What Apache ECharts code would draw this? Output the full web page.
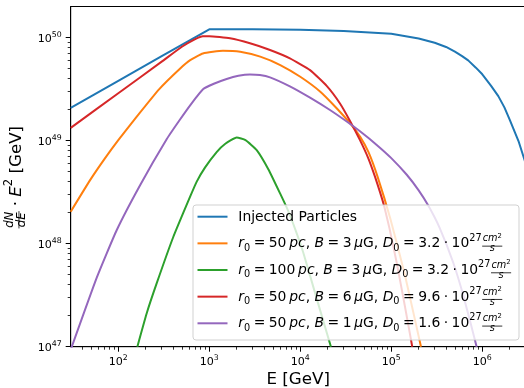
<!DOCTYPE html>
<html>
<head>
<meta charset="utf-8">
<script src="https://cdn.jsdelivr.net/npm/echarts@6/dist/echarts.min.js"></script>
<style>
  html, body { margin: 0; padding: 0; background: #fff; }
  #chart { width: 524px; height: 388px; }
</style>
</head>
<body>
<div id="chart"></div>
<script>
// values (E in GeV, dN/dE*E^2 in GeV)
const injectedE = [30, 100, 300, 1000, 3000, 1e4, 3e4, 1e5, 2e5, 3e5, 4e5, 5e5, 6e5, 7e5, 8.5e5, 1e6, 1.25e6, 1.5e6, 1.75e6, 2e6, 2.5e6, 3e6];
const injectedN = [2.08e49, 3.8e49, 6.6e49, 1.2e50, 1.2e50, 1.19e50, 1.16e50, 1.09e50, 9.8e49, 8.9e49, 8.1e49, 7.3e49, 6.6e49, 6.0e49, 5.1e49, 4.4e49, 3.4e49, 2.7e49, 2.1e49, 1.6e49, 9.9e48, 6.0e48];

const r50b3E = [30, 49, 71, 100, 158, 282, 479, 617, 851, 1413, 2188, 3631, 6026, 1e4, 1.66e4, 2.51e4, 3.55e4, 4.57e4, 5.62e4, 7.08e4, 9.77e4, 1.41e5, 2.12e5];
const r50b3N = [2.04e48, 4.13e48, 6.68e48, 1.01e49, 1.69e49, 3.16e49, 5.01e49, 6.03e49, 7.01e49, 7.45e49, 7.28e49, 6.52e49, 5.41e49, 4.16e49, 2.98e49, 2.06e49, 1.46e49, 1.08e49, 7.71e48, 4.44e48, 1.74e48, 4.98e47, 1e47];

const r100b3E = [162, 205, 264, 402, 614, 728, 900, 1205, 1500, 2000, 2500, 3320, 4470, 5980, 7380, 8910, 1.08e4, 1.51e4, 2.17e4];
const r100b3N = [1e47, 2.1e47, 4.11e47, 1.16e48, 2.84e48, 4.0e48, 5.5e48, 7.74e48, 9.33e48, 1.07e49, 1.01e49, 8.09e48, 5.25e48, 3.09e48, 2.07e48, 1.34e48, 8.17e47, 2.96e47, 1e47];

const r50b6E = [30, 100, 300, 500, 700, 851, 1000, 1690, 2800, 4650, 7690, 1.28e4, 1.95e4, 2.73e4, 3.52e4, 4.53e4, 5.58e4, 6.62e4, 7.52e4, 8.32e4, 9.55e4, 1.15e5, 1.4e5, 1.7e5];
const r50b6N = [1.33e49, 2.88e49, 5.83e49, 8.13e49, 9.66e49, 1.03e50, 1.03e50, 9.82e49, 8.79e49, 7.57e49, 6.28e49, 4.83e49, 3.39e49, 2.29e49, 1.55e49, 1.01e49, 6.76e48, 4.47e48, 3.16e48, 2.34e48, 1.41e48, 6.46e47, 2.57e47, 1e47];

const r50b1E = [30, 58, 96, 173, 340, 477, 631, 859, 1122, 1552, 2089, 2800, 3600, 4650, 7690, 1.28e4, 2.12e4, 3.24e4, 4.53e4, 6.92e4, 1e5, 1.48e5, 2e5, 2.55e5, 3.39e5, 4.8e5, 6.3e5, 8.67e5];
const r50b1N = [9.33e46, 4.68e47, 1.35e48, 3.67e48, 1.03e49, 1.6e49, 2.26e49, 3.16e49, 3.56e49, 3.96e49, 4.25e49, 4.38e49, 4.33e49, 4.11e49, 3.36e49, 2.61e49, 1.98e49, 1.53e49, 1.23e49, 9.08e48, 6.76e48, 4.66e48, 3.29e48, 2.34e48, 1.43e48, 6.52e47, 2.96e47, 1e47];

// legend parameters of the four diffusion models
const radii = [50, 100, 50, 50];
const fields = [3, 3, 6, 1];
const diffusion = ['3.2', '3.2', '9.6', '1.6'];

const colors = ['#1f77b4', '#ff7f0e', '#2ca02c', '#d62728', '#9467bd'];

const xMajor = [1e2, 1e3, 1e4, 1e5, 1e6];
const xMinor = [40, 50, 60, 70, 80, 90, 200, 300, 400, 500, 600, 700, 800, 900,
  2e3, 3e3, 4e3, 5e3, 6e3, 7e3, 8e3, 9e3, 2e4, 3e4, 4e4, 5e4, 6e4, 7e4, 8e4, 9e4,
  2e5, 3e5, 4e5, 5e5, 6e5, 7e5, 8e5, 9e5, 2e6];
const yMajor = [1e47, 1e48, 1e49, 1e50];
const yMinor = [2e47, 3e47, 4e47, 5e47, 6e47, 7e47, 8e47, 9e47, 2e48, 3e48, 4e48, 5e48, 6e48, 7e48, 8e48, 9e48,
  2e49, 3e49, 4e49, 5e49, 6e49, 7e49, 8e49, 9e49];

const FONT = 'DejaVu Sans';

const seriesE = [injectedE, r50b3E, r100b3E, r50b6E, r50b1E];
const seriesN = [injectedN, r50b3N, r100b3N, r50b6N, r50b1N];
const seriesNames = ['Injected Particles'].concat(radii.map((r, i) =>
  'r0 = ' + r + ' pc, B = ' + fields[i] + ' μG, D0 = ' + diffusion[i] + '·10^27 cm²/s'));

// ---- small mathtext-like layout for legend and y label ----
const measureCtx = document.createElement('canvas').getContext('2d');
function textWidth(t, size, italic) {
  measureCtx.font = (italic ? 'italic ' : '') + size + 'px "' + FONT + '"';
  return measureCtx.measureText(t).width;
}
// piece: [text, italic, scale, dy in em]
function pieceWidth(p, size) { return textWidth(p[0], size * p[2], p[1]); }
function runWidth(run, size) { return run.reduce((w, p) => w + pieceWidth(p, size), 0); }
function fracWidth(f, size) { return Math.max(runWidth(f.num, size), runWidth(f.den, size)) + 0.15 * size; }
function mathWidth(pieces, size) {
  return pieces.reduce((w, p) => w + (p.num ? fracWidth(p, size) : pieceWidth(p, size)), 0);
}
function placeRun(run, x, y, size, out) {
  run.forEach(p => {
    out.push({
      type: 'text', x: x, y: y + p[3] * size, z: 100, silent: true,
      style: {
        text: p[0], fontSize: size * p[2], fontFamily: FONT, fontStyle: p[1] ? 'italic' : 'normal',
        fill: '#000', align: 'left', verticalAlign: 'middle'
      }
    });
    x += pieceWidth(p, size);
  });
  return x;
}
function layoutMath(pieces, x, y, size, out) {
  pieces.forEach(p => {
    if (p.num) {
      const w = fracWidth(p, size);
      placeRun(p.num, x + (w - runWidth(p.num, size)) / 2, y - 0.37 * size, size, out);
      placeRun(p.den, x + (w - runWidth(p.den, size)) / 2, y + 0.35 * size, size, out);
      out.push({
        type: 'line', z: 100, silent: true,
        shape: { x1: x + 0.04 * size, y1: y + 0.165 * size, x2: x + w - 0.04 * size, y2: y + 0.165 * size },
        style: { stroke: '#000', lineWidth: 0.8 }
      });
      x += w;
    } else {
      x = placeRun([p], x, y, size, out);
    }
  });
  return x;
}

const SP = '\u2005'; // quarter-em space, close to mathtext operator spacing
function paramPieces(r, b, d) {
  return [
    ['r', 1, 1, 0], ['0', 0, 0.7, 0.3], [SP + '=' + SP + r + '\u2009', 0, 1, 0], ['pc', 1, 1, 0], [', ', 0, 1, 0],
    ['B', 1, 1, 0], [SP + '=' + SP + b + '\u2009', 0, 1, 0], ['μ', 1, 1, 0], ['G, ', 0, 1, 0],
    ['D', 1, 1, 0], ['0', 0, 0.7, 0.3], [SP + '=' + SP + d + SP + '·' + SP + '10', 0, 1, 0], ['27', 0, 0.7, -0.42],
    { num: [['cm', 1, 0.7, 0], ['2', 0, 0.49, -0.2]], den: [['s', 1, 0.7, 0]] }
  ];
}

const graphics = [];
// legend frame
graphics.push({
  type: 'rect', z: 99, silent: true,
  shape: { x: 193, y: 205, width: 326, height: 135, r: 3 },
  style: { fill: 'rgba(255,255,255,0.8)', stroke: 'rgba(204,204,204,0.9)', lineWidth: 1 }
});
const legendSize = 13.9;
const legendRows = [[['Injected Particles', 0, 1, 0]]].concat(radii.map((r, i) => paramPieces(r, fields[i], diffusion[i])));
legendRows.forEach((row, i) => {
  const y = 216.7 + i * 26.65;
  graphics.push({
    type: 'line', z: 100, silent: true,
    shape: { x1: 197.5, y1: y, x2: 227.5, y2: y },
    style: { stroke: colors[i], lineWidth: 2 }
  });
  layoutMath(row, 238.3, y + 0.5, legendSize, graphics);
});

// y axis title, rotated
const ySize = 16.7;
const yLabelPieces = [
  { num: [['dN', 1, 0.7, 0]], den: [['dE', 1, 0.7, 0]] },
  [SP + '·' + SP, 0, 1, 0], ['E', 1, 1, 0], ['2', 0, 0.7, -0.42], [' [GeV]', 0, 1, 0]
];
const yChildren = [];
layoutMath(yLabelPieces, -mathWidth(yLabelPieces, ySize) / 2, 0, ySize, yChildren);
graphics.push({ type: 'group', x: 16.2, y: 177.5, rotation: Math.PI / 2, children: yChildren });

function powerLabel(v) {
  const e = Math.round(Math.log10(v));
  return '{b|10}{s|' + e + '}';
}
const tickRich = {
  b: { fontSize: 11.1, fontFamily: FONT, color: '#000', lineHeight: 14, verticalAlign: 'bottom' },
  s: { fontSize: 7.8, fontFamily: FONT, color: '#000', lineHeight: 8, verticalAlign: 'top' }
};

const xBase = { type: 'log', logBase: 10, min: 30, max: 3e6, gridIndex: 0, position: 'bottom', splitLine: { show: false }, minorTick: { show: false } };
const yBase = { type: 'log', logBase: 10, min: 1e47, max: 2e50, gridIndex: 0, position: 'left', splitLine: { show: false }, minorTick: { show: false } };

const option = {
  animation: false,
  backgroundColor: '#fff',
  grid: {
    left: 70.7, right: -1.7, top: 6.5, bottom: 41.3,
    show: true, borderColor: '#000', borderWidth: 1,
    containLabel: false, outerBoundsMode: 'none'
  },
  xAxis: [
    Object.assign({}, xBase, {
      name: 'E [GeV]', nameLocation: 'middle', nameGap: 24, nameMoveOverlap: false,
      nameTextStyle: { fontSize: 16.7, fontFamily: FONT, color: '#000' },
      axisLine: { show: true, lineStyle: { color: '#000', width: 1 } },
      axisTick: { show: true, customValues: xMajor, length: 5, lineStyle: { color: '#000', width: 1 } },
      axisLabel: { customValues: xMajor, formatter: powerLabel, rich: tickRich, margin: 7 }
    }),
    Object.assign({}, xBase, {
      axisLine: { show: false },
      axisTick: { show: true, customValues: xMinor, length: 3, lineStyle: { color: '#000', width: 0.8 } },
      axisLabel: { show: false }
    })
  ],
  yAxis: [
    Object.assign({}, yBase, {
      axisLine: { show: true, lineStyle: { color: '#000', width: 1 } },
      axisTick: { show: true, customValues: yMajor, length: 5, lineStyle: { color: '#000', width: 1 } },
      axisLabel: { customValues: yMajor, formatter: powerLabel, rich: tickRich, margin: 9 }
    }),
    Object.assign({}, yBase, {
      axisLine: { show: false },
      axisTick: { show: true, customValues: yMinor, length: 3, lineStyle: { color: '#000', width: 0.8 } },
      axisLabel: { show: false }
    })
  ],
  series: seriesNames.map((name, i) => ({
    name: name,
    type: 'line',
    xAxisIndex: 0,
    yAxisIndex: 0,
    data: seriesE[i].map((e, j) => [e, seriesN[i][j]]),
    showSymbol: false,
    symbol: 'none',
    smooth: i === 0 ? false : 0.15,
    clip: true,
    lineStyle: { color: colors[i], width: 2 },
    itemStyle: { color: colors[i] },
    emphasis: { disabled: true },
    z: 2 + i
  })),
  graphic: { elements: graphics }
};

const chart = echarts.init(document.getElementById('chart'), null, { renderer: 'canvas' });
chart.setOption(option);
</script>
</body>
</html>
